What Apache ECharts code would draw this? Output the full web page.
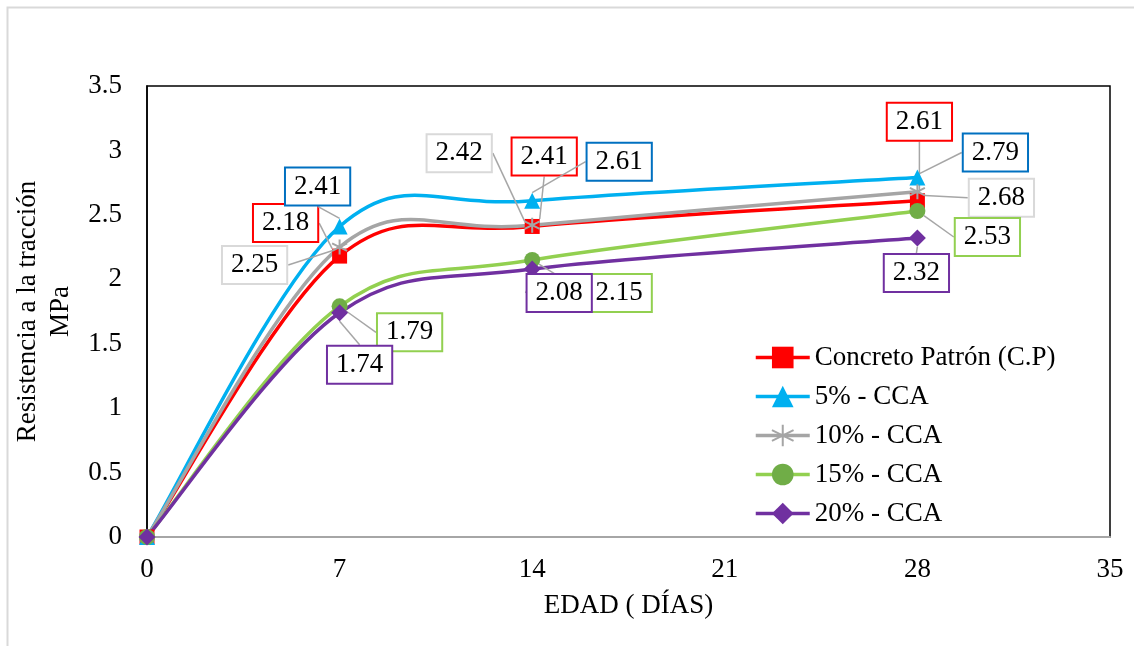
<!DOCTYPE html>
<html><head><meta charset="utf-8">
<script src="https://cdn.jsdelivr.net/npm/echarts@6/dist/echarts.min.js"></script>
<style>html,body{margin:0;padding:0;background:#fff}#c{width:1134px;height:646px}</style>
</head><body><div id="c"></div>
<script>
const days = [0, 7, 14, 28];
const seriesNames = ['Concreto Patrón (C.P)', '5% - CCA', '10% - CCA', '15% - CCA', '20% - CCA'];
const cp = [0, 2.18, 2.41, 2.61];
const cca5 = [0, 2.41, 2.61, 2.79];
const cca10 = [0, 2.25, 2.42, 2.68];
const cca15 = [0, 1.79, 2.15, 2.53];
const cca20 = [0, 1.74, 2.08, 2.32];
const xTicks = { min: 0, max: 35, interval: 7 };
const yTicks = { min: 0, max: 3.5, interval: 0.5 };

// label offsets (px) per series per point, relative to the point
const labelOffsets = [
  [null, [-54, -33], [12, -70], [2, -79]],
  [null, [-22, -40], [87, -39], [78, -25]],
  [null, [-85, 18], [-73, -72], [84, 6]],
  [null, [70, 26], [87, 33], [70, 26]],
  [null, [20, 52], [27, 24], [-1, 35]]
];

const FONT = '"Liberation Serif", "Times New Roman", serif';
const FS = 27;
const styles = [
  { line: '#FF0000', fill: '#FF0000', border: '#FF0000', symbol: 'rect', size: 15 },
  { line: '#00B0F0', fill: '#00B0F0', border: '#0070C0', symbol: 'triangle', size: 16 },
  { line: '#A5A5A5', fill: '#A5A5A5', border: '#D9D9D9', symbol: 'path://M0,-1L0,1M-0.87,-0.5L0.87,0.5M-0.87,0.5L0.87,-0.5', size: 15 },
  { line: '#92D050', fill: '#70AD47', border: '#92D050', symbol: 'circle', size: 16 },
  { line: '#7030A0', fill: '#7030A0', border: '#7030A0', symbol: 'diamond', size: 17 }
];
const allVals = [cp, cca5, cca10, cca15, cca20];

// Excel-style smoothed curves (Catmull-Rom Bezier in screen space), one segment per item
const curveSeries = allVals.map((vals, s) => ({
  type: 'custom',
  coordinateSystem: 'cartesian2d',
  silent: true,
  z: 2,
  data: days.slice(0, -1).map((d, i) => [d, vals[i]]),
  renderItem: (params, api) => {
    const i = params.dataIndex;
    const P = days.map((d, j) => api.coord([d, vals[j]]));
    const n = P.length;
    const p0 = P[Math.max(i - 1, 0)], p1 = P[i], p2 = P[i + 1], p3 = P[Math.min(i + 2, n - 1)];
    const t = 1 / 6;
    return {
      type: 'bezierCurve',
      shape: {
        x1: p1[0], y1: p1[1], x2: p2[0], y2: p2[1],
        cpx1: p1[0] + (p2[0] - p0[0]) * t, cpy1: p1[1] + (p2[1] - p0[1]) * t,
        cpx2: p2[0] - (p3[0] - p1[0]) * t, cpy2: p2[1] - (p3[1] - p1[1]) * t
      },
      style: { stroke: styles[s].line, lineWidth: 3.5, fill: 'none', lineCap: 'round' }
    };
  }
}));

const pointSeries = allVals.map((vals, s) => {
  const st = styles[s];
  const isStar = s === 2;
  return {
    name: seriesNames[s],
    type: 'line',
    data: vals.map((v, i) => ({ value: [days[i], v], label: { show: i > 0 } })),
    symbol: st.symbol,
    symbolSize: st.size,
    showAllSymbol: true,
    lineStyle: { color: st.line, width: 3.5, opacity: 0 },
    itemStyle: isStar ? { color: 'rgba(0,0,0,0)', borderColor: st.fill, borderWidth: 2 } : { color: st.fill },
    z: 3 + s,
    label: {
      show: true,
      position: 'inside',
      formatter: p => p.value[1].toFixed(2),
      fontFamily: FONT,
      fontSize: FS,
      lineHeight: 30,
      color: '#000',
      backgroundColor: '#fff',
      borderColor: st.border,
      borderWidth: 2,
      padding: [4, 8, 2, 8]
    },
    labelLine: { show: true, lineStyle: { color: '#A6A6A6', width: 1.5 } },
    labelLayout: p => {
      const o = labelOffsets[p.seriesIndex - allVals.length][p.dataIndex];
      return o ? { dx: o[0], dy: o[1] } : {};
    }
  };
});

const chart = echarts.init(document.getElementById('c'));
chart.setOption({
  animation: false,
  backgroundColor: '#fff',
  graphic: [{
    type: 'rect', left: 5, top: 5, shape: { x: 0, y: 0, width: 1150, height: 660 },
    style: { fill: 'none', stroke: '#D9D9D9', lineWidth: 2 }, z: -10
  }],
  grid: { left: 147, right: 24, top: 86, bottom: 109, show: true, borderColor: '#000', borderWidth: 1.5, backgroundColor: 'transparent' },
  legend: {
    orient: 'vertical', left: 754, top: 344, padding: 0, itemGap: 12, itemWidth: 54, itemHeight: 27,
    textStyle: { fontFamily: FONT, fontSize: FS, color: '#000' },
    data: seriesNames.map((nm, s) => ({ name: nm, lineStyle: { color: styles[s].line, width: 3.5, opacity: 1 } }))
  },
  xAxis: {
    type: 'value', min: xTicks.min, max: xTicks.max, interval: xTicks.interval,
    name: 'EDAD ( DÍAS)', nameLocation: 'middle', nameGap: 55,
    nameTextStyle: { fontFamily: FONT, fontSize: FS, color: '#000' },
    axisLine: { show: true, lineStyle: { color: '#A6A6A6', width: 2 } },
    axisTick: { show: false }, splitLine: { show: false },
    axisLabel: { fontFamily: FONT, fontSize: FS, color: '#000', margin: 19 }
  },
  yAxis: {
    type: 'value', min: yTicks.min, max: yTicks.max, interval: yTicks.interval,
    name: 'Resistencia a la tracción\nMPa', nameLocation: 'middle', nameGap: 59, nameRotate: 90,
    nameTextStyle: { fontFamily: FONT, fontSize: FS, color: '#000', lineHeight: 33 },
    axisLine: { show: true, lineStyle: { color: '#000', width: 1.5 } },
    axisTick: { show: false }, splitLine: { show: false },
    axisLabel: { fontFamily: FONT, fontSize: FS, color: '#000', margin: 25 }
  },
  series: curveSeries.concat(pointSeries)
});
</script></body></html>
